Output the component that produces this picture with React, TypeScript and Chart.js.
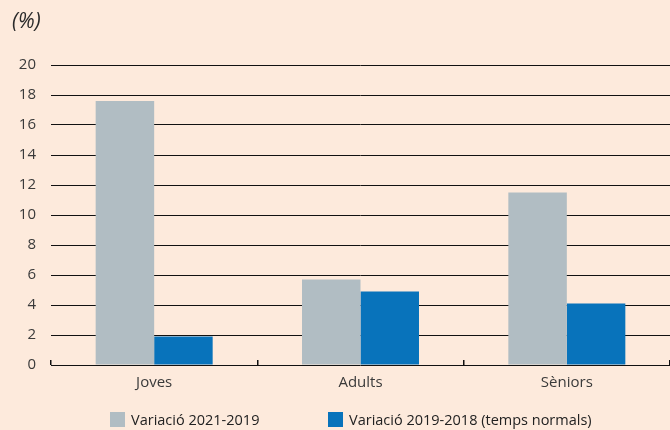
import React, { useEffect, useRef } from "react";
import { Chart, registerables } from "chart.js";

Chart.register(...registerables);

const categories = ["Joves", "Adults", "Sèniors"];
const variacio2021_2019 = [17.6, 5.7, 11.5];
const variacio2019_2018 = [1.9, 4.9, 4.1];
const seriesLabels = ["Variació 2021-2019", "Variació 2019-2018 (temps normals)"];
const seriesColors = ["#b1bdc3", "#0873bb"];
const unitLabel = "(%)";
const yMin = 0;
const yMax = 20;
const yStep = 2;

const BG = "#fdeadc";
const FONT = "'Open Sans', 'Noto Sans', sans-serif";

export default function App() {
  const canvasRef = useRef<HTMLCanvasElement | null>(null);

  useEffect(() => {
    const canvas = canvasRef.current;
    if (!canvas) return;
    const chart = new Chart(canvas, {
      type: "bar",
      data: {
        labels: categories,
        datasets: [
          {
            label: seriesLabels[0],
            data: variacio2021_2019,
            backgroundColor: seriesColors[0],
            borderWidth: 0,
            categoryPercentage: 0.567,
            barPercentage: 1,
          },
          {
            label: seriesLabels[1],
            data: variacio2019_2018,
            backgroundColor: seriesColors[1],
            borderWidth: 0,
            categoryPercentage: 0.567,
            barPercentage: 1,
          },
        ],
      },
      options: {
        animation: false,
        responsive: false,
        maintainAspectRatio: false,
        layout: { padding: { left: 12, right: 0, top: 0, bottom: 0 } },
        plugins: {
          legend: { display: false },
          tooltip: { enabled: false },
          title: {
            display: true,
            text: unitLabel,
            align: "start",
            color: "#2a2a2a",
            font: { family: FONT, size: 21, style: "italic", weight: "normal", lineHeight: 1.2 },
            padding: { top: 9.4, bottom: 30.4 },
          },
        },
        scales: {
          x: {
            offset: true,
            grid: {
              display: true,
              offset: true,
              drawOnChartArea: false,
              drawTicks: true,
              tickLength: -5,
              color: "#111111",
              lineWidth: 1.5,
            },
            border: { display: false },
            ticks: {
              color: "#3a3a3a",
              font: { family: FONT, size: 15 },
              padding: 14,
            },
            afterFit: (scale: any) => {
              scale.height = 65;
            },
          },
          y: {
            min: yMin,
            max: yMax,
            grid: {
              color: "#111111",
              lineWidth: 1,
              drawTicks: false,
            },
            border: { display: false },
            ticks: {
              stepSize: yStep,
              color: "#3a3a3a",
              font: { family: FONT, size: 15 },
              padding: 15,
            },
            afterFit: (scale: any) => {
              scale.width = 39;
            },
          },
        },
      },
    });
    return () => chart.destroy();
  }, []);

  const legendItem = (i: number, left: number) => (
    <div
      key={i}
      style={{
        position: "absolute",
        left,
        top: 412,
        display: "flex",
        alignItems: "center",
        height: 15,
      }}
    >
      <span
        style={{
          display: "inline-block",
          width: 15,
          height: 15,
          background: seriesColors[i],
          marginRight: 6,
        }}
      />
      <span
        style={{
          fontFamily: FONT,
          fontSize: 14.5,
          color: "#222222",
          whiteSpace: "nowrap",
          lineHeight: "15px",
        }}
      >
        {seriesLabels[i]}
      </span>
    </div>
  );

  return (
    <div
      style={{
        position: "fixed",
        left: 0,
        top: 0,
        width: 670,
        height: 430,
        background: BG,
        overflow: "hidden",
      }}
    >
      <canvas ref={canvasRef} width={670} height={430} style={{ display: "block", width: 670, height: 430 }} />
      {legendItem(0, 110)}
      {legendItem(1, 328)}
    </div>
  );
}
